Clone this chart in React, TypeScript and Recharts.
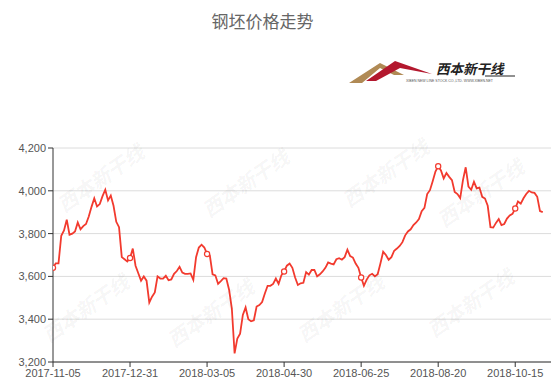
import React from "react";
import { LineChart, Line, XAxis, YAxis, CartesianGrid } from "recharts";

// 钢坯价格 (元/吨), one reading every 2 days on the day axis
const STEP = 2;
const prices = [
  3640, 3661, 3661, 3790, 3815, 3865, 3795, 3800, 3810, 3852,
  3820, 3835, 3845, 3880, 3925, 3965, 3927, 3938, 3975, 4005,
  3955, 3978, 3930, 3855, 3830, 3690, 3680, 3670, 3686, 3730,
  3650, 3615, 3580, 3600, 3580, 3478, 3505, 3525, 3600, 3590,
  3590, 3603, 3582, 3586, 3612, 3625, 3645, 3618, 3612, 3612,
  3614, 3584, 3690, 3735, 3748, 3735, 3705, 3698, 3610, 3605,
  3565, 3578, 3592, 3590, 3538, 3450, 3240, 3310, 3332, 3420,
  3455, 3400, 3390, 3395, 3459, 3466, 3480, 3520, 3556, 3556,
  3565, 3590, 3565, 3605, 3623, 3650, 3660, 3640, 3595, 3560,
  3568, 3570, 3620, 3608, 3630, 3630, 3600, 3610, 3623, 3640,
  3665, 3660, 3656, 3680, 3685, 3678, 3690, 3725, 3695, 3688,
  3660, 3640, 3595, 3556, 3585, 3605, 3612, 3600, 3610, 3660,
  3715, 3700, 3678, 3690, 3720, 3730, 3742, 3760, 3792, 3810,
  3820, 3840, 3852, 3868, 3905, 3920, 3985, 4003, 4045, 4090,
  4115, 4095, 4058, 4083, 4065, 4050, 3995, 3985, 3966, 4050,
  4110, 4020, 4005, 4042, 4011, 4015, 3972, 3964, 3930, 3830,
  3828, 3850, 3868, 3840, 3845, 3870, 3885, 3892, 3917, 3950,
  3940, 3965, 3985, 4000, 3992, 3990, 3972, 3905, 3900,
];

const TICK_EVERY = 56;
const xLabels = [
  "2017-11-05", "2017-12-31", "2018-03-05", "2018-04-30",
  "2018-06-25", "2018-08-20", "2018-10-15",
];
const yTicks = [3200, 3400, 3600, 3800, 4000, 4200];

const data = prices.map((v, k) => ({ i: k * STEP, v }));
const xTicks = xLabels.map((_, k) => k * TICK_EVERY);

const FONT = "'Liberation Sans', Arial, sans-serif";
const CJK = "'Noto Sans CJK SC', sans-serif";
const RED = "#f23a2e";

const watermarks = [
  [100, 175], [245, 180], [385, 170], [480, 190],
  [85, 305], [210, 310], [340, 305], [470, 300],
];

function Dot(props: any) {
  const { cx, cy, payload, index } = props;
  if (payload.i % TICK_EVERY !== 0) return <g key={index} />;
  return <circle key={index} cx={cx} cy={cy} r={2.6} fill="#fff" stroke={RED} strokeWidth={1.2} />;
}

export default function App() {
  return (
    <div style={{ position: "absolute", left: 0, top: 0, width: 551, height: 388, overflow: "hidden", background: "#fff", fontFamily: FONT }}>
      <div style={{ position: "absolute", left: 0, width: 525, top: 8, textAlign: "center", fontSize: 17, color: "#666", fontFamily: CJK }}>
        钢坯价格走势
      </div>

      {/* logo */}
      <svg style={{ position: "absolute", left: 340, top: 55 }} width={200} height={35}>
        <polygon points="9,28 40,8 64,20 54,20 40,13 22,28" fill="#b08a55" />
        <polygon points="26,26 55,6 92,19 60,13 36,26" fill="#b3182e" />
        <text x={96} y={19} fontSize={13.5} fontWeight="bold" fontStyle="italic" fill="#222" fontFamily={CJK}>西本新干线</text>
        <line x1={145} y1={21} x2={175} y2={21} stroke="#222" strokeWidth={1} />
        <text x={66} y={27} fontSize={3.5} fill="#555">XIBEN NEW LINE STOCK CO.,LTD.   WWW.XIBEN.NET</text>
      </svg>

      <LineChart width={551} height={388} data={data} margin={{ top: 148, right: 0, bottom: 0, left: 0 }}>
        <CartesianGrid vertical={false} stroke="#dcdcdc" />
        <XAxis
          type="number"
          dataKey="i"
          domain={[0, 362]}
          ticks={xTicks}
          tickFormatter={(v: number) => xLabels[v / TICK_EVERY]}
          interval={0}
          height={26}
          tick={{ fontSize: 11, fill: "#555", fontFamily: FONT }}
          axisLine={{ stroke: "#333" }}
          tickLine={{ stroke: "#333" }}
          tickSize={5}
          allowDataOverflow
        />
        <YAxis
          domain={[3200, 4200]}
          ticks={yTicks}
          width={53}
          tickFormatter={(v: number) => v.toLocaleString("en-US")}
          tick={{ fontSize: 11, fill: "#555", fontFamily: FONT }}
          axisLine={{ stroke: "#333" }}
          tickLine={{ stroke: "#333" }}
          tickSize={5}
        />
        <Line
          type="linear"
          dataKey="v"
          stroke={RED}
          strokeWidth={1.8}
          dot={Dot}
          activeDot={false}
          isAnimationActive={false}
        />
      </LineChart>

      {/* watermark */}
      {watermarks.map(([x, y], k) => (
        <div
          key={k}
          style={{
            position: "absolute", left: x - 60, top: y - 12, width: 120, textAlign: "center",
            whiteSpace: "nowrap", transform: "rotate(-35deg)", fontSize: 20, fontWeight: "bold",
            fontStyle: "italic", color: "rgba(0,0,0,0.05)", pointerEvents: "none", fontFamily: CJK,
          }}
        >
          西本新干线
        </div>
      ))}
    </div>
  );
}
